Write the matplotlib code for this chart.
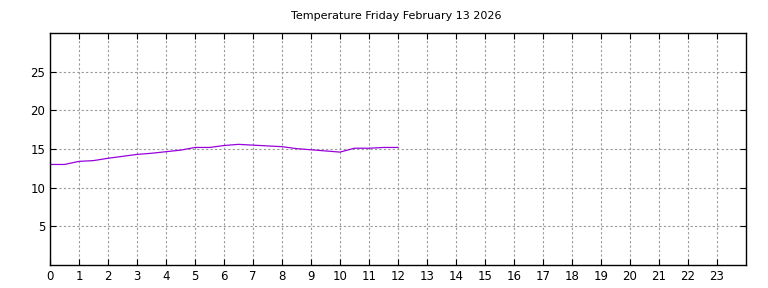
import matplotlib
matplotlib.use("Agg")
import matplotlib.pyplot as plt

hours = [0, 0.5, 1, 1.5, 2, 2.5, 3, 3.5, 4, 4.5, 5, 5.5, 6, 6.5, 7, 7.5, 8, 8.5, 9, 9.5, 10, 10.5, 11, 11.5, 12]
temps = [13.0, 13.0, 13.4, 13.5, 13.8, 14.05, 14.3, 14.45, 14.65, 14.85, 15.2, 15.2, 15.45, 15.6, 15.5, 15.4, 15.3, 15.05, 14.9, 14.75, 14.6, 15.1, 15.1, 15.2, 15.2]
xticks = list(range(0, 24))
yticks = [5, 10, 15, 20, 25]
title = "Temperature Friday February 13 2026"

fig = plt.figure(figsize=(7.68, 2.88), dpi=100)
ax = fig.add_axes([50/768, 23/288, 696/768, 232/288])
ax.plot(hours, temps, color="#9900dd", linewidth=0.9)
ax.set_xlim(0, 24)
ax.set_ylim(0, 30)
ax.set_xticks(xticks)
ax.set_yticks(yticks)
ax.tick_params(direction="in", top=True, right=True, length=4, labelsize=8.5, width=0.8)
ax.grid(True, color="#999999", linestyle=(0, (2, 2)), linewidth=0.8)
for s in ax.spines.values():
    s.set_linewidth(1.0)
fig.text(396/768, 1 - 16/288, title, ha="center", va="center", fontsize=8)
fig.savefig("out.png", dpi=100)
